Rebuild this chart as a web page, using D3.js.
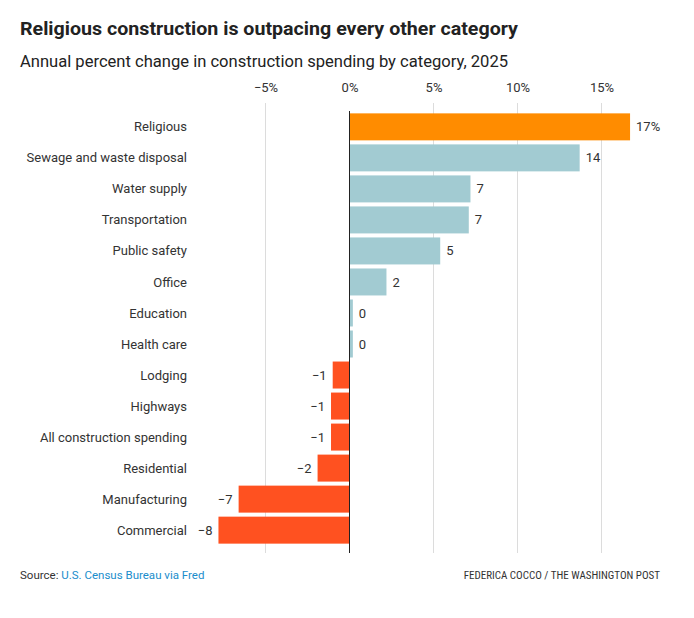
<!DOCTYPE html>
<html><head><meta charset="utf-8">
<script src="https://cdn.jsdelivr.net/npm/d3@7"></script>
<style>
body{margin:0;background:#fff;}
svg{display:block;}
</style></head>
<body>
<svg id="chart" width="694" height="618"></svg>
<script>
const categories = ["Religious","Sewage and waste disposal","Water supply","Transportation","Public safety","Office","Education","Health care","Lodging","Highways","All construction spending","Residential","Manufacturing","Commercial"];
const values = [16.7, 13.7, 7.2, 7.1, 5.4, 2.2, 0.2, 0.2, -1.0, -1.1, -1.1, -1.9, -6.6, -7.8];
const valueLabels = ["17%","14","7","7","5","2","0","0","\u22121","\u22121","\u22121","\u22122","\u22127","\u22128"];
const tickValues = [-5, 0, 5, 10, 15];
const tickLabels = ["\u22125%","0%","5%","10%","15%"];
const highlight = "Religious";

const svg = d3.select("#chart");
const font = "Roboto,'Liberation Sans',sans-serif";
const narrow = "'Liberation Sans Narrow','Roboto Condensed',sans-serif";

const title = svg.append("text").attr("x",20).attr("y",35)
  .attr("font-family",font).attr("font-weight","bold").attr("font-size",18).attr("fill","#222")
  .text("Religious construction is outpacing every other category");
const sub = svg.append("text").attr("x",20).attr("y",67)
  .attr("font-family",font).attr("font-size",17).attr("fill","#222")
  .text("Annual percent change in construction spending by category, 2025");

const x = d3.scaleLinear().domain([0,5]).range([349.5,433.5]);
const y = d3.scaleBand().domain(categories).range([111.5,545.5]).paddingInner(0.13).paddingOuter(0.06);

// gridlines
const grid = svg.append("g");
grid.selectAll("line").data(tickValues.filter(d=>d!==0)).join("line")
  .attr("x1",d=>x(d)).attr("x2",d=>x(d)).attr("y1",103).attr("y2",553)
  .attr("stroke","#dcdcdc").attr("stroke-width",1);

// tick labels
const axis = d3.axisTop(x).tickValues(tickValues).tickFormat((d,i)=>tickLabels[i]).tickSize(0);
const ax = svg.append("g").attr("transform","translate(0,95)").call(axis);
ax.select(".domain").remove();
ax.selectAll("text").attr("font-family",font).attr("font-size",13).attr("fill","#333").attr("dy",0);

// bars
svg.append("g").selectAll("rect").data(categories).join("rect")
  .attr("x",(d,i)=>x(Math.min(0,values[i])))
  .attr("width",(d,i)=>Math.abs(x(values[i])-x(0)))
  .attr("y",d=>y(d)).attr("height",y.bandwidth())
  .attr("fill",(d,i)=> d===highlight ? "#ff8c00" : (values[i] >= 0 ? "#a2cbd2" : "#ff5120"));

// value labels
svg.append("g").selectAll("text").data(categories).join("text")
  .attr("x",(d,i)=> values[i] >= 0 ? x(values[i]) + 6 : x(values[i]) - 6)
  .attr("y",d=>y(d)+y.bandwidth()/2)
  .attr("dy","0.35em")
  .attr("text-anchor",(d,i)=> values[i] >= 0 ? "start" : "end")
  .attr("font-family",font).attr("font-size",13).attr("fill","#333")
  .text((d,i)=>valueLabels[i]);

// category labels
svg.append("g").selectAll("text").data(categories).join("text")
  .attr("x",187).attr("y",d=>y(d)+y.bandwidth()/2).attr("dy","0.35em")
  .attr("text-anchor","end")
  .attr("font-family",font).attr("font-size",13).attr("fill","#333")
  .text(d=>d);

// zero line
svg.append("line").attr("x1",x(0)).attr("x2",x(0)).attr("y1",111).attr("y2",553)
  .attr("stroke","#222").attr("stroke-width",1);

// footer
const src = svg.append("text").attr("x",20).attr("y",579)
  .attr("font-family",font).attr("font-size",11.5).attr("fill","#333");
src.append("tspan").text("Source: ");
src.append("tspan").attr("fill","#1a8dcc").text("U.S. Census Bureau via Fred");
svg.append("text").attr("x",660).attr("y",579).attr("text-anchor","end")
  .attr("font-family",narrow).attr("font-size",11).attr("fill","#333")
  .text("FEDERICA COCCO / THE WASHINGTON POST");

// fit widths to the reference text extents
function fit(sel, w){ const b = sel.node().getComputedTextLength(); if (b>0) sel.attr("textLength", w).attr("lengthAdjust","spacingAndGlyphs"); }
fit(title, 498);
fit(sub, 488);
</script>
</body></html>
